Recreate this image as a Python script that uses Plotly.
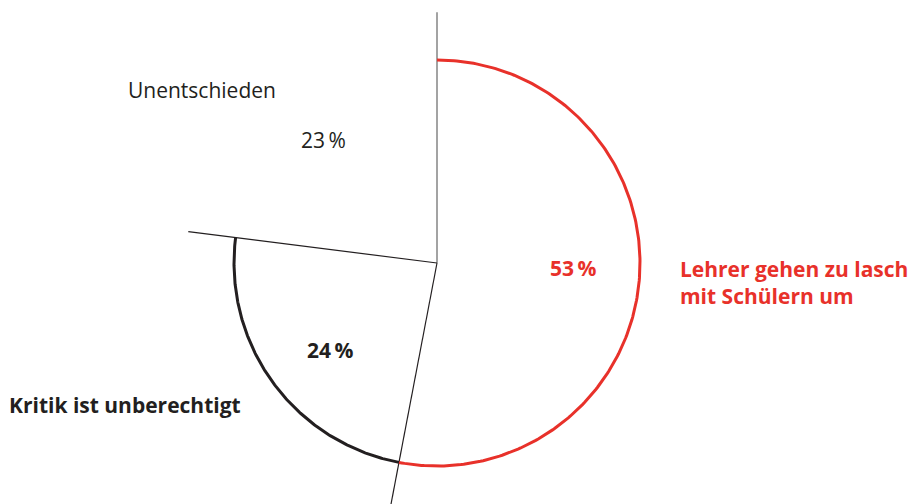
import numpy as np
import plotly.graph_objects as go

categories = ["Lehrer gehen zu lasch<br>mit Schülern um", "Kritik ist unberechtigt", "Unentschieden"]
values = [53, 24, 23]
pct_labels = ["53\u2009%", "24\u2009%", "23\u2009%"]

W, H = 915, 504
RED = "#e8312a"
DARK = "#231f20"

cum = np.concatenate([[0], np.cumsum(values)])
ang = np.deg2rad(cum / cum[-1] * 360.0)  # clockwise from 12 o'clock

def xy(r, a):
    return r * np.sin(a), r * np.cos(a)

fig = go.Figure()

# radial separator lines
line_colors = ["#666666", DARK, DARK]
for i in range(3):
    x, y = xy(np.array([0, 1.235]), np.array([ang[i], ang[i]]))
    fig.add_trace(go.Scatter(x=x, y=y, mode="lines",
                             line=dict(color=line_colors[i], width=1.2),
                             hoverinfo="skip", showlegend=False))

# outer arcs for the first two segments
arc_colors = [RED, DARK, None]
for i in range(3):
    if arc_colors[i] is None:
        continue
    a = np.linspace(ang[i], ang[i + 1], 240)
    x, y = xy(np.ones_like(a), a)
    fig.add_trace(go.Scatter(x=x, y=y, mode="lines",
                             line=dict(color=arc_colors[i], width=3),
                             hoverinfo="skip", showlegend=False))

cx, cy, R = 437, 263, 203
fig.update_layout(
    width=W, height=H,
    margin=dict(l=0, r=0, t=0, b=0),
    paper_bgcolor="white", plot_bgcolor="white",
    showlegend=False,
    xaxis=dict(range=[-cx / R, (W - cx) / R], visible=False, fixedrange=True),
    yaxis=dict(range=[-(H - cy) / R, cy / R], visible=False, fixedrange=True),
)

FONT = "Open Sans"

def ann(text, x, y, color, size, bold=False, xanchor="center"):
    t = f"<b>{text}</b>" if bold else text
    fig.add_annotation(text=t, x=x / W, y=1 - y / H, xref="paper", yref="paper",
                       showarrow=False, xanchor=xanchor, yanchor="middle",
                       align="left",
                       font=dict(family=FONT, size=size, color=color))

ann(pct_labels[0], 573, 268, RED, 21, bold=True)
ann(pct_labels[1], 330, 350, DARK, 21, bold=True)
ann(pct_labels[2], 323, 140, DARK, 21)
ann(categories[0], 678, 282, RED, 21, bold=True, xanchor="left")
ann(categories[1], 7, 405, DARK, 21, bold=True, xanchor="left")
ann(categories[2], 126, 90, DARK, 21, xanchor="left")

fig.write_html("out.html")
